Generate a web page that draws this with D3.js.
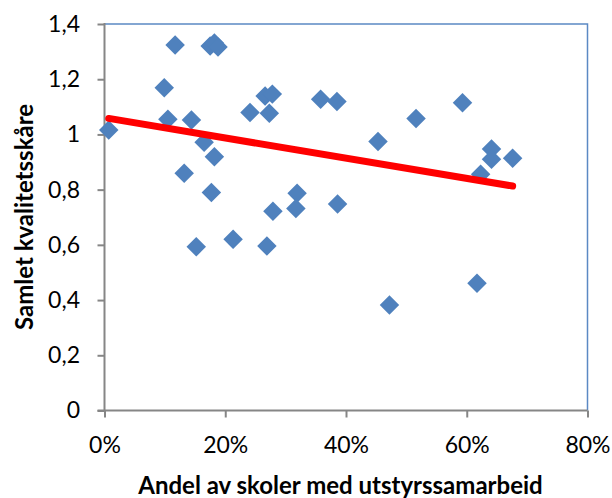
<!DOCTYPE html>
<html lang="no">
<head>
  <meta charset="UTF-8">
  <title>Samlet kvalitetsskåre</title>
  <script src="https://d3js.org/d3.v7.min.js"></script>
  <style>
    body { margin: 0; background: #fff; font-family: Lato, "Open Sans", sans-serif; }
    .tick text { fill: #000; }
  </style>
</head>
<body>
  <svg width="612" height="498"></svg>

  <script>
    // andel skoler med utstyrssamarbeid (x) og samlet kvalitetsskåre (y)
    const andel = [0.007, 0.117, 0.175, 0.182, 0.188, 0.099, 0.105, 0.144, 0.165, 0.182,
                   0.132, 0.177, 0.152, 0.213, 0.269, 0.279, 0.241, 0.266, 0.278, 0.273,
                   0.358, 0.385, 0.319, 0.317, 0.386, 0.453, 0.516, 0.593, 0.641, 0.641,
                   0.676, 0.623, 0.472, 0.617];
    const skaare = [1.016, 1.324, 1.320, 1.331, 1.317, 1.169, 1.055, 1.052, 0.972, 0.919,
                    0.859, 0.790, 0.593, 0.620, 0.596, 0.722, 1.079, 1.139, 1.146, 1.077,
                    1.127, 1.119, 0.787, 0.732, 0.748, 0.974, 1.058, 1.115, 0.947, 0.910,
                    0.914, 0.856, 0.382, 0.461];
    // lineær trendlinje
    const trendX = [0.007, 0.676];
    const trendY = [1.058, 0.813];

    const xTicks = [0, 0.2, 0.4, 0.6, 0.8];
    const yTicks = [0, 0.2, 0.4, 0.6, 0.8, 1, 1.2, 1.4];

    const svg = d3.select("svg");
    const m = { left: 104.5, right: 587.5, top: 24, bottom: 410.5 };

    const x = d3.scaleLinear().domain([0, 0.8]).range([m.left, m.right]);
    const y = d3.scaleLinear().domain([0, 1.4]).range([m.bottom, m.top]);

    const fmtY = d => d3.format(".1~f")(d).replace(".", ",");
    const fmtX = d => Math.round(d * 100) + "%";

    // ramme topp og høyre
    svg.append("path")
      .attr("d", `M${m.left},${m.top}H${m.right}V${m.bottom}`)
      .attr("fill", "none")
      .attr("stroke", "#5b89c4")
      .attr("stroke-width", 1.5);

    const yAxis = svg.append("g")
      .attr("transform", `translate(${m.left},0)`)
      .call(d3.axisLeft(y).tickValues(yTicks).tickFormat(fmtY).tickSize(7).tickPadding(17.5));

    const xAxis = svg.append("g")
      .attr("transform", `translate(0,${m.bottom})`)
      .call(d3.axisBottom(x).tickValues(xTicks).tickFormat(fmtX).tickSize(7).tickPadding(19));

    [yAxis, xAxis].forEach(a => {
      a.select(".domain").attr("stroke", "#868686").attr("stroke-width", 2);
      a.selectAll(".tick line").attr("stroke", "#868686").attr("stroke-width", 2);
      a.selectAll(".tick text").attr("font-size", 23).attr("font-family", "Lato, sans-serif");
    });
    yAxis.select(".domain").attr("d", `M0,${m.top - 1}V${m.bottom}`);
    xAxis.select(".domain").attr("d", `M${m.left - 7},0H${m.right}`);

    // punkter
    const diamond = d3.symbol(d3.symbolSquare, 190);
    svg.append("g")
      .selectAll("path")
      .data(andel.map((a, i) => [a, skaare[i]]))
      .join("path")
      .attr("d", diamond)
      .attr("transform", d => `translate(${x(d[0])},${y(d[1])}) rotate(45)`)
      .attr("fill", "#4f81bd");

    // trendlinje
    svg.append("path")
      .datum(trendX.map((v, i) => [v, trendY[i]]))
      .attr("d", d3.line().x(d => x(d[0])).y(d => y(d[1])))
      .attr("fill", "none")
      .attr("stroke", "#ff0000")
      .attr("stroke-width", 7)
      .attr("stroke-linecap", "round");

    // aksetitler
    svg.append("text")
      .attr("x", 340.5)
      .attr("y", 494)
      .attr("text-anchor", "middle")
      .attr("font-size", 24)
      .attr("font-weight", "bold")
      .text("Andel av skoler med utstyrssamarbeid");

    svg.append("text")
      .attr("transform", "translate(33,217) rotate(-90)")
      .attr("text-anchor", "middle")
      .attr("font-size", 24)
      .attr("font-weight", "bold")
      .text("Samlet kvalitetsskåre");
  </script>
</body>
</html>
